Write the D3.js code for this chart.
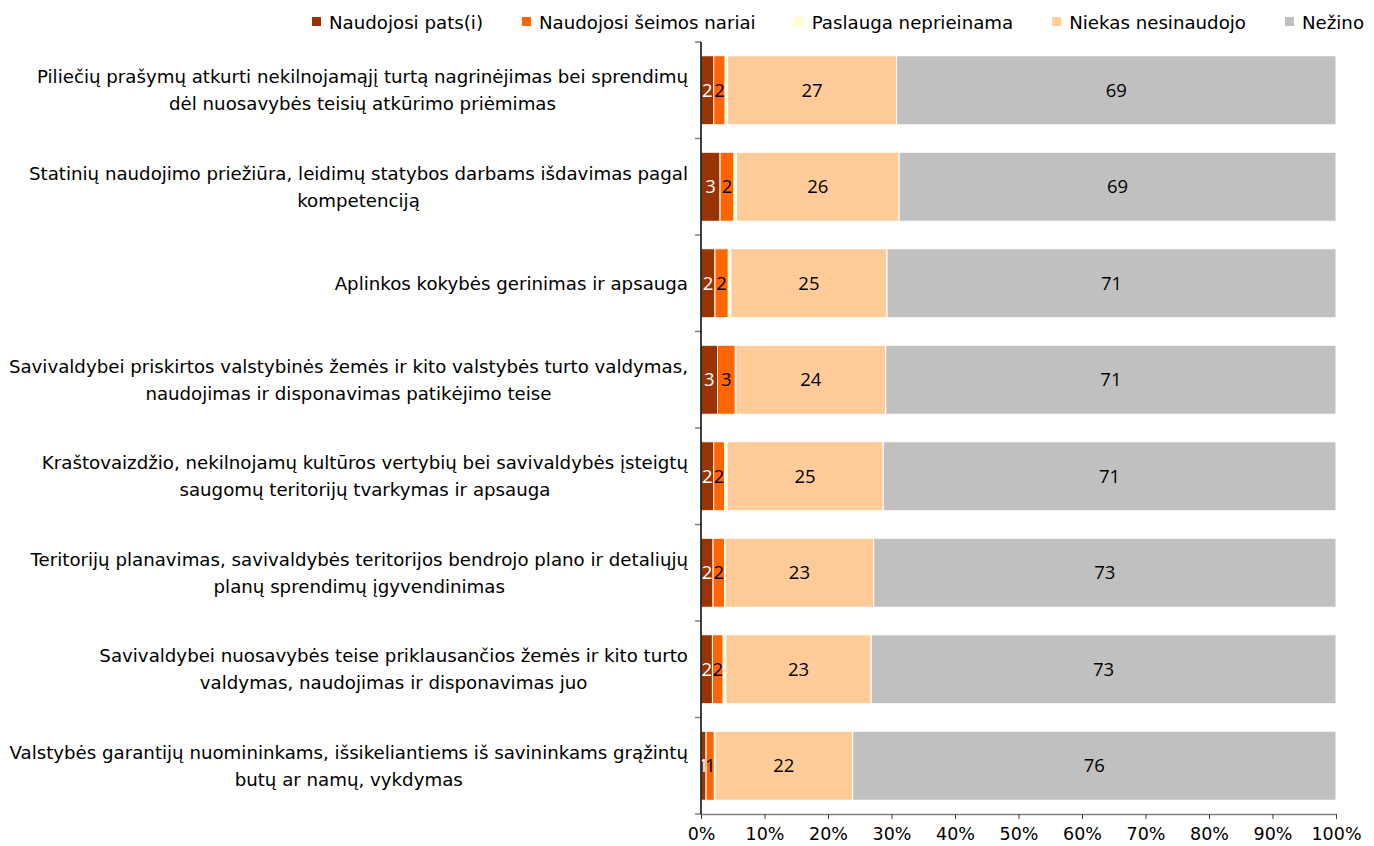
<!DOCTYPE html>
<html>
<head>
<meta charset="utf-8">
<script src="https://cdn.jsdelivr.net/npm/d3@7"></script>
<style>
  body { margin: 0; background: #fff; }
  svg { display: block; }
  .cat text, .legend text { font-family: "DejaVu Sans", Verdana, sans-serif; font-size: 18.2px; fill: #000; }
  .x-axis text { font-family: "DejaVu Sans", Verdana, sans-serif; font-size: 17.5px; fill: #000; }
  .val { font-family: "Open Sans", sans-serif; font-size: 18.5px; }
</style>
</head>
<body>
<div id="chart"></div>
<script>
const series = ['Naudojosi pats(i)', 'Naudojosi šeimos nariai', 'Paslauga neprieinama', 'Niekas nesinaudojo', 'Nežino'];
const colors = ['#993300', '#ff6600', '#ffffcc', '#ffcc99', '#c0c0c0'];
const labelColors = ['#fff', '#000', '#000', '#000', '#000'];

const categories = [
  ['Piliečių prašymų atkurti nekilnojamąjį turtą nagrinėjimas bei sprendimų', 'dėl nuosavybės teisių atkūrimo priėmimas'],
  ['Statinių naudojimo priežiūra, leidimų statybos darbams išdavimas pagal', 'kompetenciją'],
  ['Aplinkos kokybės gerinimas ir apsauga'],
  ['Savivaldybei priskirtos valstybinės žemės ir kito valstybės turto valdymas,', 'naudojimas ir disponavimas patikėjimo teise'],
  ['Kraštovaizdžio, nekilnojamų kultūros vertybių bei savivaldybės įsteigtų', 'saugomų teritorijų tvarkymas ir apsauga'],
  ['Teritorijų planavimas, savivaldybės teritorijos bendrojo plano ir detaliųjų', 'planų sprendimų įgyvendinimas'],
  ['Savivaldybei nuosavybės teise priklausančios žemės ir kito turto', 'valdymas, naudojimas ir disponavimas juo'],
  ['Valstybės garantijų nuomininkams, išsikeliantiems iš savininkams grąžintų', 'butų ar namų, vykdymas']
];

// percentages per category, series order as above
const pats        = [2.0, 3.0, 2.2, 2.6, 2.0, 1.9, 1.8, 0.8];
const seimos      = [1.8, 2.2, 2.1, 2.8, 1.7, 1.8, 1.7, 1.3];
const neprieinama = [0.4, 0.4, 0.4, 0.1, 0.4, 0.1, 0.4, 0.1];
const niekas      = [26.6, 25.6, 24.6, 23.6, 24.6, 23.4, 22.9, 21.7];
const nezino      = [69.2, 68.8, 70.7, 70.9, 71.3, 72.8, 73.2, 76.1];

const xTicks = [0, 10, 20, 30, 40, 50, 60, 70, 80, 90, 100];

const W = 1374, H = 846;
const plotL = 701, plotR = 1336, plotT = 42, plotB = 814;

const svg = d3.select('#chart').append('svg').attr('width', W).attr('height', H);

const keys = categories.map((c, i) => i);
const rows = keys.map(i => ({ i, values: [pats[i], seimos[i], neprieinama[i], niekas[i], nezino[i]] }));

const x = d3.scaleLinear().domain([0, 100]).range([plotL, plotR]);
const y = d3.scaleBand().domain(keys).range([plotT, plotB]).paddingInner(0.285).paddingOuter(0.1425);

const stack = d3.stack().keys([0, 1, 2, 3, 4]).value((d, k) => d.values[k]);
const layers = stack(rows);

// bars
const g = svg.append('g');
layers.forEach((layer, k) => {
  g.selectAll(null).data(layer).enter().append('rect')
    .attr('x', d => x(d[0]))
    .attr('y', d => y(d.data.i))
    .attr('width', d => x(d[1]) - x(d[0]))
    .attr('height', y.bandwidth())
    .attr('fill', colors[k])
    .attr('stroke', '#fff')
    .attr('stroke-width', 1);
});

// value labels (rounded, zero hidden)
layers.forEach((layer, k) => {
  g.selectAll(null).data(layer.filter(d => Math.round(d.data.values[k]) > 0)).enter().append('text')
    .attr('class', 'val')
    .attr('x', d => (x(d[0]) + x(d[1])) / 2)
    .attr('y', d => y(d.data.i) + y.bandwidth() / 2)
    .attr('dy', '0.36em')
    .attr('text-anchor', 'middle')
    .attr('fill', labelColors[k])
    .text(d => Math.round(d.data.values[k]));
});

// x axis
const xAxis = svg.append('g').attr('class', 'x-axis')
  .attr('transform', `translate(0,${plotB})`)
  .call(d3.axisBottom(x).tickValues(xTicks).tickSize(5).tickSizeOuter(0).tickFormat(d => d + '%'));
xAxis.select('.domain').attr('stroke', '#808080').attr('stroke-width', 1.5);
xAxis.selectAll('.tick line').attr('stroke', '#404040');
xAxis.selectAll('.tick text').attr('dy', '1.0em');

// y axis: ticks at band boundaries
const step = y.step();
const bounds = d3.range(keys.length + 1).map(j => plotT + j * step);
svg.append('g').selectAll('line').data(bounds).enter().append('line')
  .attr('x1', plotL - 6).attr('x2', plotL)
  .attr('y1', d => d).attr('y2', d => d)
  .attr('stroke', '#808080').attr('stroke-width', 1.5);
svg.append('line')
  .attr('x1', plotL).attr('x2', plotL).attr('y1', plotT).attr('y2', plotB)
  .attr('stroke', '#000').attr('stroke-width', 1.5);

// category labels, centred block, right edge at 688
const cat = svg.append('g').attr('class', 'cat');
const lineH = 27;
categories.forEach((lines, i) => {
  const t = cat.append('text').attr('text-anchor', 'middle');
  const cy = y(i) + y.bandwidth() / 2;
  const y0 = cy - (lines.length - 1) * lineH / 2;
  lines.forEach((s, j) => {
    t.append('tspan').attr('y', y0 + j * lineH).attr('dy', '0.36em').text(s);
  });
  let maxW = 0;
  t.selectAll('tspan').each(function () { maxW = Math.max(maxW, this.getComputedTextLength()); });
  t.selectAll('tspan').attr('x', 688 - maxW / 2);
});

// legend
const legend = svg.append('g').attr('class', 'legend');
let lx = 312;
series.forEach((s, k) => {
  legend.append('rect').attr('x', lx).attr('y', 17).attr('width', 9).attr('height', 9).attr('fill', colors[k]);
  const t = legend.append('text').attr('x', lx + 17).attr('y', 22).attr('dy', '0.36em').text(s);
  lx += 17 + t.node().getComputedTextLength() + 39;
});
</script>
</body>
</html>
